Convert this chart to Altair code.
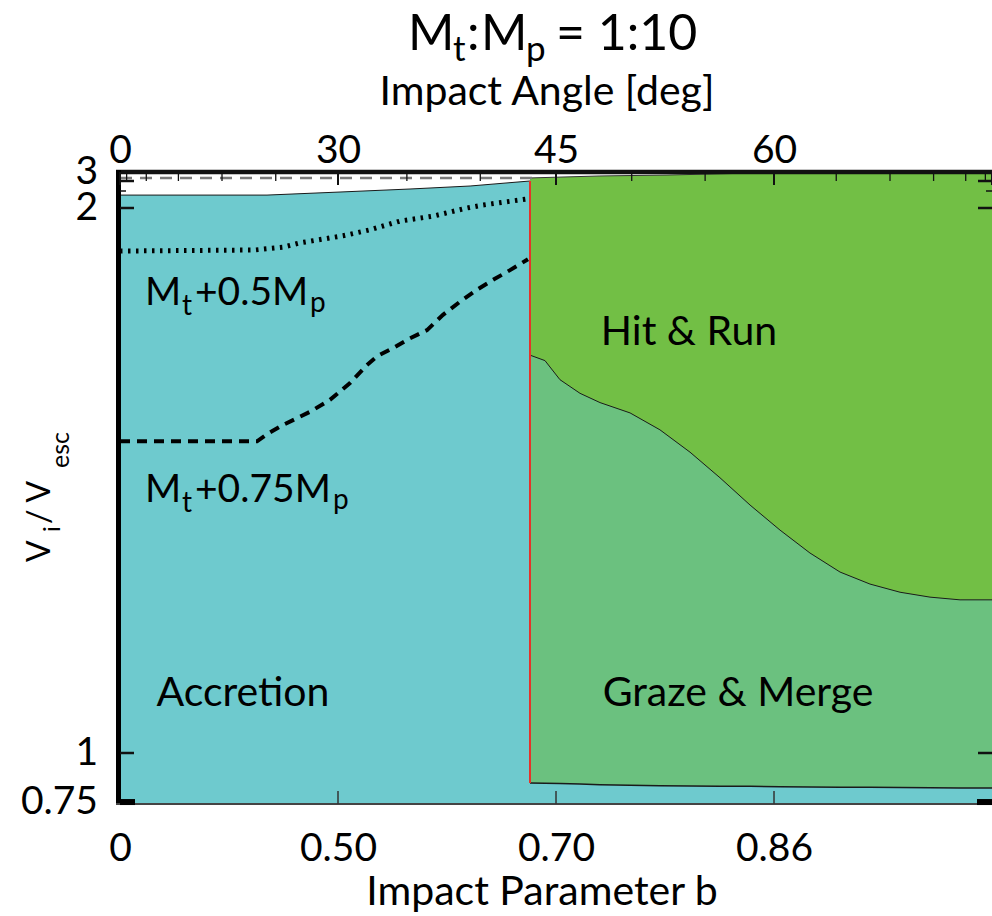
import math
import altair as alt
import pandas as pd

FONT = "Lato"

# ---------------- data (b = impact parameter, v = Vi/Vesc) ----------------
# Accretion region: upper boundary for b below the graze boundary
acc_b = [0.0, 0.4106, 0.5023, 0.5767, 0.6336, 0.6857]
acc_v = [2.38, 2.38, 2.47, 2.60, 2.75, 3.00]

# Hit & Run region: upper edge
hr_b = [0.6857, 0.7419, 0.7920, 0.8500, 1.0]
hr_v = [3.17, 3.28, 3.33, 3.44, 3.50]

# Graze & Merge region: upper and lower edges
gm_b = [0.6857, 0.6981, 0.7103, 0.7263, 0.7419, 0.7648, 0.7869, 0.8085, 0.8295,
        0.8500, 0.8700, 0.8895, 0.9087, 0.9274, 0.9458, 0.9638, 0.9815, 1.0]
gm_top = [1.730, 1.720, 1.685, 1.660, 1.643, 1.624, 1.593, 1.552, 1.505,
          1.455, 1.409, 1.367, 1.332, 1.310, 1.295, 1.286, 1.281, 1.281]
gm_low = [0.847, 0.846, 0.845, 0.842, 0.838, 0.835, 0.833, 0.832, 0.831,
          0.830, 0.828, 0.827, 0.826, 0.825, 0.824, 0.823, 0.822, 0.821]

# M_t + 0.5 M_p (dotted)
half_b = [0.0, 0.3935, 0.4324, 0.4543, 0.5057, 0.5354, 0.5667, 0.5991, 0.6308, 0.6452, 0.6832]
half_v = [1.921, 1.923, 1.928, 1.936, 1.949, 1.960, 1.976, 1.985, 2.0, 2.088, 2.265]

# M_t + 0.75 M_p (dashed)
tq_b = [0.0, 0.3964, 0.4106, 0.4324, 0.4668, 0.4907, 0.5136, 0.5322, 0.5429, 0.5595,
        0.5767, 0.5934, 0.6086, 0.6244, 0.6398, 0.6540, 0.6688, 0.6840]
tq_v = [1.572, 1.572, 1.585, 1.602, 1.626, 1.648, 1.679, 1.712, 1.728, 1.743,
        1.761, 1.776, 1.804, 1.828, 1.850, 1.868, 1.886, 1.906]

# graze / accretion boundary (red)
bnd_b = [0.6857, 0.6857]
bnd_v = [0.847, 3.0]

# gray dashed reference line near the top
ref_b = [0.0, 0.69]
ref_v = [3.17, 3.17]

# axes
y_major = [0.75, 1, 2, 3]
y_labels = ["0.75", "1", "2", "3"]
y_minor = [2.5]
b_ticks = [0.5, 0.70711, 0.86603]
b_label_vals = [0, 0.5, 0.70711, 0.86603]
angle_major = [0, 30, 45, 60, 90]
angle_labeled = [0, 30, 45, 60]
angle_minor = [5, 10, 15, 20, 25, 35, 40, 50, 55, 65, 70, 75, 80, 85]

# colours
C_ACC = "#6ECACE"
C_HR = "#72BF45"
C_GM = "#6BC17F"
C_RED = "#E6332A"

W, H = 872, 632
Y0 = 172  # plot top in page pixels
X0 = 120  # plot left in page pixels

xs = alt.Scale(type="pow", exponent=2, domain=[0, 1], zero=False, nice=False)
ys = alt.Scale(type="linear", domain=[0.74, 1, 2, 2.5, 3, 3.5],
               range=[632, 581, 36, 19, 9, 0], zero=False, nice=False)


def X(field="b", axis=None):
    return alt.X(f"{field}:Q", scale=xs, axis=axis)


def Y(field="v", axis=None):
    return alt.Y(f"{field}:Q", scale=ys, axis=axis)


def frame(**cols):
    return pd.DataFrame(cols)


# ---- areas ----
acc_df = frame(b=acc_b, v=acc_v, v0=[0.74] * len(acc_b))
hr_df = frame(b=hr_b, v=hr_v, v0=[0.74] * len(hr_b))
gm_df = frame(b=gm_b, top=gm_top, low=gm_low, base=[0.74] * len(gm_b))

area_acc = alt.Chart(acc_df).mark_area(color=C_ACC, opacity=1).encode(
    x=X(), y=Y(), y2="v0:Q")
area_hr = alt.Chart(hr_df).mark_area(color=C_HR, opacity=1).encode(
    x=X(), y=Y(), y2="v0:Q")
area_gm = alt.Chart(gm_df).mark_area(color=C_GM, opacity=1).encode(
    x=X(), y=Y("top"), y2="low:Q")
area_strip = alt.Chart(gm_df).mark_area(color=C_ACC, opacity=1).encode(
    x=X(), y=Y("low"), y2="base:Q")

# ---- edge lines ----
edge_acc = alt.Chart(acc_df).mark_line(color="#1a1a1a", strokeWidth=1).encode(x=X(), y=Y())
edge_hr = alt.Chart(hr_df).mark_line(color="#333333", strokeWidth=1).encode(x=X(), y=Y())
edge_gm_top = alt.Chart(gm_df).mark_line(color="#1a1a1a", strokeWidth=1).encode(x=X(), y=Y("top"))
edge_gm_low = alt.Chart(gm_df).mark_line(color="#1a1a1a", strokeWidth=1.5).encode(x=X(), y=Y("low"))

ref_line = alt.Chart(frame(b=ref_b, v=ref_v)).mark_line(
    color="#7a7a7a", strokeWidth=2.5, strokeDash=[12, 8]).encode(x=X(), y=Y())

bnd_line = alt.Chart(frame(b=bnd_b, v=bnd_v)).mark_line(
    color=C_RED, strokeWidth=2).encode(x=X(), y=Y())

half_line = alt.Chart(frame(b=half_b, v=half_v)).mark_line(
    color="black", strokeWidth=5, strokeDash=[2.5, 5.5], strokeCap="butt").encode(x=X(), y=Y())
tq_line = alt.Chart(frame(b=tq_b, v=tq_v)).mark_line(
    color="black", strokeWidth=4, strokeDash=[10, 7], strokeCap="butt").encode(x=X(), y=Y())

# ---- frame / borders ----
border_top = alt.Chart().mark_rule(color="#111111", strokeWidth=4.5).encode(
    x=alt.value(-4), x2=alt.value(W), y=alt.value(0))
border_left = alt.Chart().mark_rule(color="#000000", strokeWidth=5).encode(
    x=alt.value(-1.5), y=alt.value(-2), y2=alt.value(H))
border_bottom = alt.Chart().mark_rule(color="#444444", strokeWidth=2).encode(
    x=alt.value(-4), x2=alt.value(W), y=alt.value(H))

# ---- ticks ----
lab_font = dict(labelFont=FONT, labelFontSize=39, labelColor="black")

ytick_df = frame(v=y_major, lab=y_labels)
ytick_left = alt.Chart(ytick_df).transform_filter("datum.v > 0.8").mark_rule(
    color="#111111", strokeWidth=2.5).encode(
    y=Y(), x=alt.value(0), x2=alt.value(14))
ytick_left_075 = alt.Chart(frame(v=[0.75])).mark_rule(color="#000000", strokeWidth=6).encode(
    y=Y(), x=alt.value(0), x2=alt.value(15))
ytick_left_minor = alt.Chart(frame(v=y_minor)).mark_rule(color="#111111", strokeWidth=1.5).encode(
    y=Y(), x=alt.value(0), x2=alt.value(6))
ytick_right = alt.Chart(ytick_df).transform_filter("datum.v > 0.8").mark_rule(
    color="#111111", strokeWidth=2.5).encode(
    y=Y(), x=alt.value(W - 14), x2=alt.value(W))
ytick_right_075 = alt.Chart(frame(v=[0.75])).mark_rule(color="#000000", strokeWidth=6).encode(
    y=Y(), x=alt.value(W - 15), x2=alt.value(W))
ytick_right_minor = alt.Chart(frame(v=y_minor)).mark_rule(color="#111111", strokeWidth=1.5).encode(
    y=Y(), x=alt.value(W - 6), x2=alt.value(W))

# y tick labels (text marks placed through the y scale)
ylab = alt.Chart(ytick_df).transform_filter("datum.v < 2.9").mark_text(
    font=FONT, fontSize=39, color="black", align="right", baseline="middle", dy=0).encode(
    y=Y(), x=alt.value(-22), text="lab:N")
ylab3 = alt.Chart(ytick_df).transform_filter("datum.v > 2.9").mark_text(
    font=FONT, fontSize=39, color="black", align="right", baseline="middle", dy=-9).encode(
    y=Y(), x=alt.value(-22), text="lab:N")

bottom_axis = alt.Axis(orient="bottom", values=b_label_vals, ticks=False, domain=False, grid=False,
                       title=None, labelBaseline="alphabetic", labelPadding=56, labelOverlap=False,
                       labelFlush=False,
                       labelExpr="datum.value == 0 ? '0' : datum.value < 0.6 ? '0.50' : datum.value < 0.8 ? '0.70' : '0.86'",
                       **lab_font)
btick = alt.Chart(frame(b=b_ticks)).mark_rule(color="#333333", strokeWidth=1.5).encode(
    x=X(axis=bottom_axis), y=alt.value(H - 13), y2=alt.value(H))

top_vals = [math.sin(math.radians(a)) for a in angle_labeled]
top_axis = alt.Axis(orient="top", values=top_vals, ticks=False, domain=False, grid=False,
                    title=None, labelBaseline="alphabetic", labelPadding=10, labelOverlap=False,
                    labelFlush=False,
                    labelExpr="'' + round(asin(datum.value) * 180 / PI)", **lab_font)
ttick_major = alt.Chart(frame(angle=angle_major)).transform_calculate(
    b="sin(datum.angle * PI / 180)").mark_rule(color="#111111", strokeWidth=2).encode(
    x=X(axis=top_axis), y=alt.value(0), y2=alt.value(13))
ttick_minor = alt.Chart(frame(angle=angle_minor)).transform_calculate(
    b="sin(datum.angle * PI / 180)").mark_rule(color="#111111", strokeWidth=1.3).encode(
    x=X(), y=alt.value(0), y2=alt.value(9))


# ---- text ----
def txt(t, px, py, size=39, align="left", angle=0):
    kw = dict(text=t, font=FONT, fontSize=size, color="black", align=align,
              baseline="alphabetic")
    if angle:
        kw["angle"] = angle
    return alt.Chart().mark_text(**kw).encode(x=alt.value(px - X0), y=alt.value(py - Y0))


texts = [
    # chart title  M_t : M_p = 1:10
    txt("M", 408, 50, 50), txt("t", 453, 61, 35), txt(":", 467, 50, 50),
    txt("M", 481, 50, 50), txt("p", 526, 61, 35), txt("= 1:10", 556, 50, 50),
    # axis titles
    txt("Impact Angle [deg]", 547, 105, 41, "center"),
    txt("Impact Parameter b", 542, 905, 41, "center"),
    # y title V_i / V_esc (rotated)
    txt("V", 50, 562, 32, angle=270), txt("i", 60, 532, 24, angle=270),
    txt(" / V", 50, 524, 32, angle=270), txt("esc", 69, 468, 25, angle=270),
    # region labels
    txt("Hit & Run", 689, 345, 41, "center"),
    txt("Graze & Merge", 738, 706, 41, "center"),
    txt("Accretion", 243, 706, 41, "center"),
    # M_t + 0.5 M_p
    txt("M", 145, 305), txt("t", 182, 315, 28), txt("+0.5M", 195, 305), txt("p", 310, 312, 28),
    # M_t + 0.75 M_p
    txt("M", 145, 502), txt("t", 182, 512, 28), txt("+0.75M", 195, 502), txt("p", 333, 509, 28),
]

chart = alt.layer(
    area_acc, area_hr, area_gm, area_strip,
    edge_acc, edge_hr, edge_gm_top, edge_gm_low,
    ref_line, half_line, tq_line, bnd_line,
    border_top, border_left, border_bottom,
    ytick_left, ytick_left_075, ytick_left_minor,
    ytick_right, ytick_right_075, ytick_right_minor,
    ylab, ylab3,
    btick, ttick_major, ttick_minor,
    *texts,
).resolve_axis(x="independent").properties(
    width=W, height=H,
    padding={"left": X0, "top": Y0, "right": 0, "bottom": 916 - Y0 - H},
    autosize=alt.AutoSizeParams(type="none"),
    background="white",
).configure_view(stroke=None)

chart.save("out.html", embed_options={"renderer": "svg", "actions": False})
